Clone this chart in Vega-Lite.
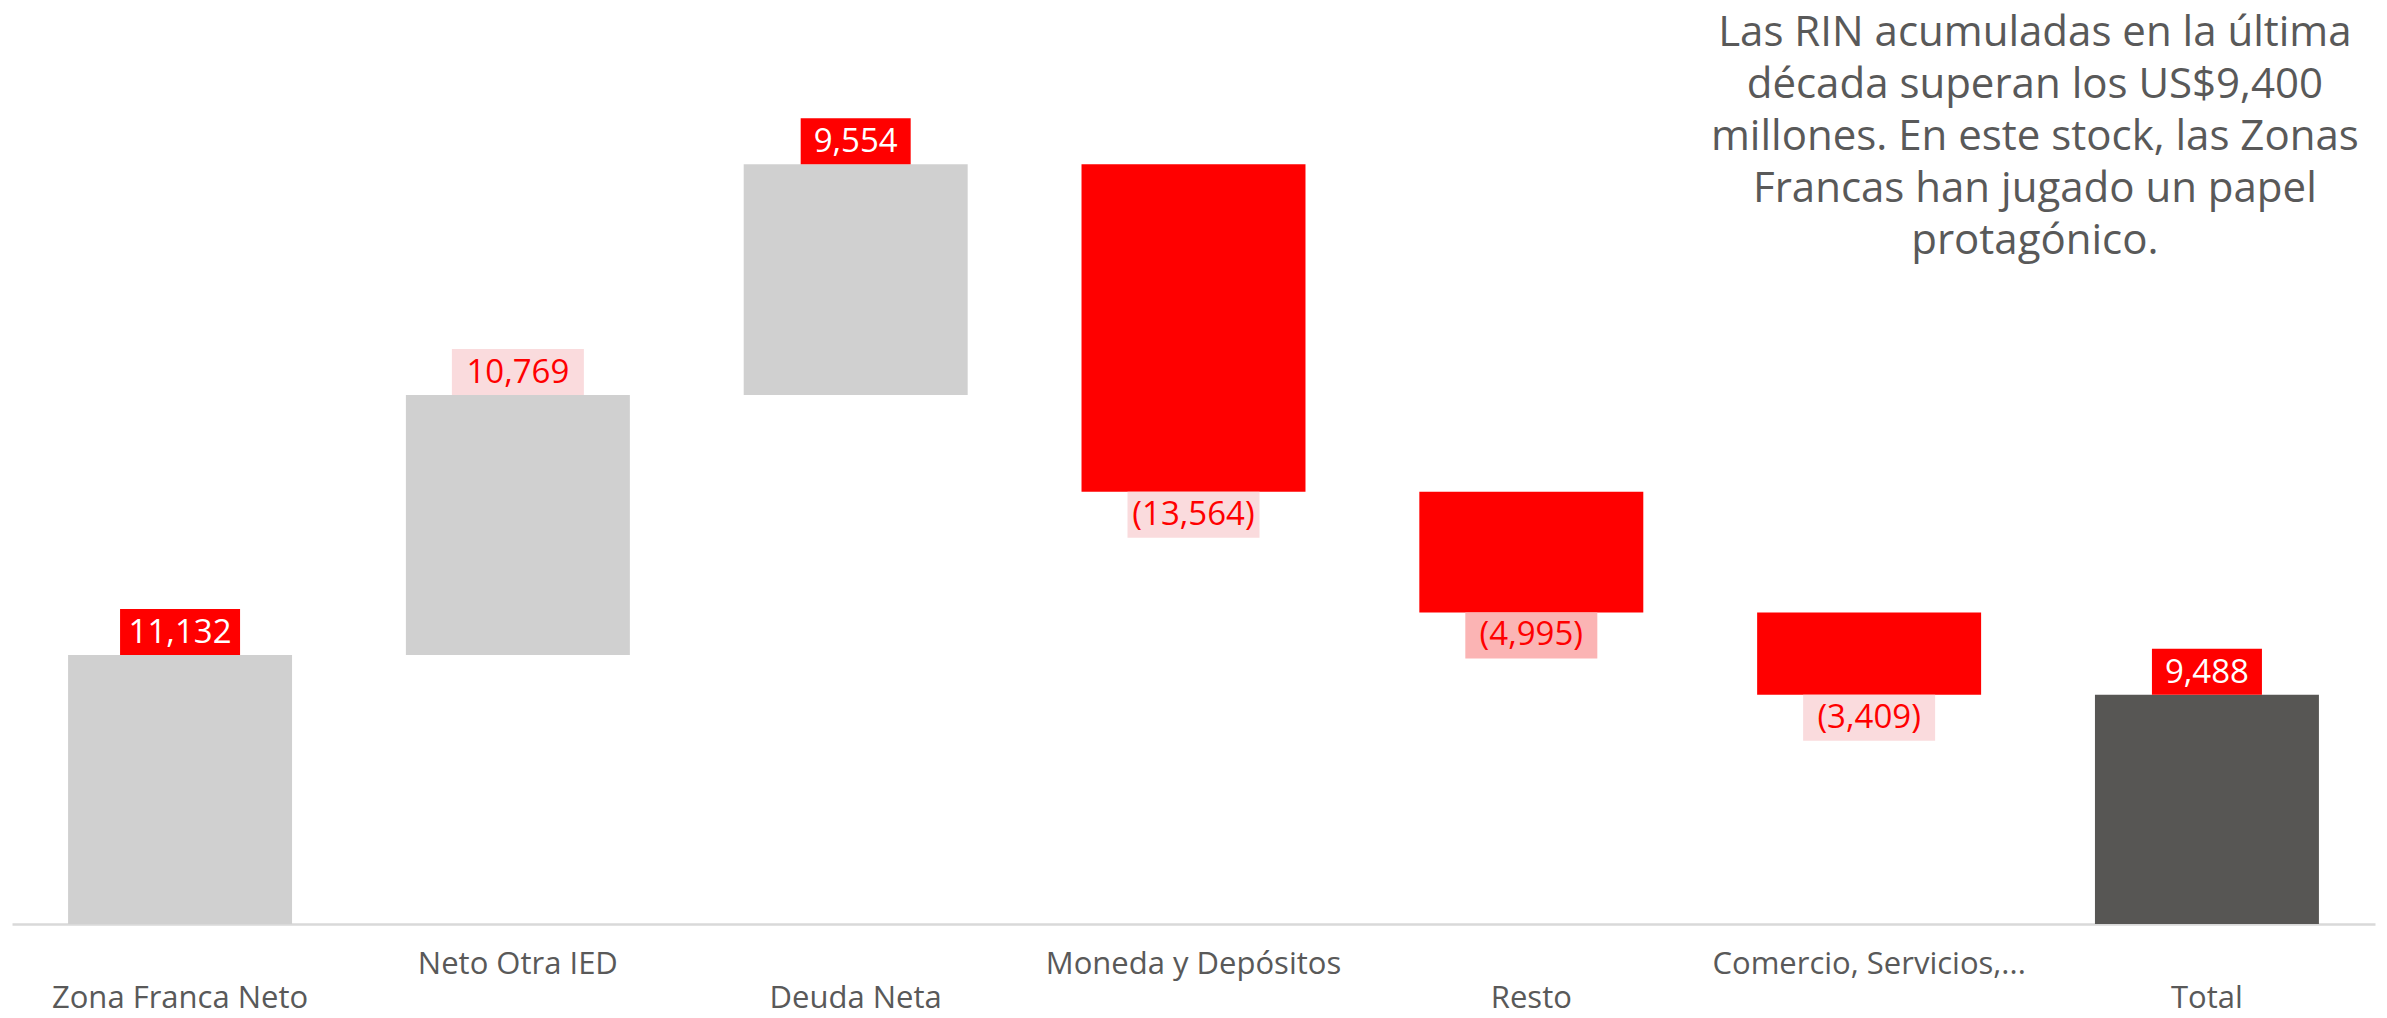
{
  "$schema": "https://vega.github.io/schema/vega-lite/v6.json",
  "width": 2363,
  "height": 924,
  "autosize": {"type": "none"},
  "padding": {"left": 12, "top": 0, "right": 12, "bottom": 94},
  "background": "white",
  "config": {"view": {"stroke": null}, "font": "Open Sans"},
  "data": {"values": [
    {"category": "Zona Franca Neto", "value": 11132, "start": 0, "end": 11132, "type": "Aporte", "label": "11,132", "tone": "fuerte"},
    {"category": "Neto Otra IED", "value": 10769, "start": 11132, "end": 21901, "type": "Aporte", "label": "10,769", "tone": "suave"},
    {"category": "Deuda Neta", "value": 9554, "start": 21901, "end": 31455, "type": "Aporte", "label": "9,554", "tone": "fuerte"},
    {"category": "Moneda y Depósitos", "value": -13564, "start": 31455, "end": 17891, "type": "Salida", "label": "(13,564)", "tone": "suave"},
    {"category": "Resto", "value": -4995, "start": 17891, "end": 12896, "type": "Salida", "label": "(4,995)", "tone": "medio"},
    {"category": "Comercio, Servicios,...", "value": -3409, "start": 12896, "end": 9487, "type": "Salida", "label": "(3,409)", "tone": "suave"},
    {"category": "Total", "value": 9488, "start": 0, "end": 9488, "type": "Total", "label": "9,488", "tone": "fuerte"}
  ]},
  "encoding": {
    "x": {
      "field": "category",
      "type": "nominal",
      "sort": null,
      "scale": {"paddingInner": 0.337, "paddingOuter": 0.166},
      "axis": {
        "title": null,
        "domainColor": "#D9D9D9",
        "domainWidth": 2.5,
        "ticks": false,
        "labelFont": "Open Sans",
        "labelFontSize": 31,
        "labelColor": "#595959",
        "labelBaseline": "alphabetic",
        "labelPadding": {"condition": {"test": "indexof(['Zona Franca Neto', 'Deuda Neta', 'Resto', 'Total'], datum.value) >= 0", "value": 83}, "value": 49},
        "labelAngle": 0,
        "labelLimit": 0
      }
    }
  },
  "layer": [
    {
      "mark": {"type": "bar"},
      "encoding": {
        "y": {"field": "start", "type": "quantitative", "scale": {"domain": [0, 38250], "nice": false, "zero": true}, "axis": null},
        "y2": {"field": "end"},
        "color": {"field": "type", "type": "nominal", "scale": {"domain": ["Aporte", "Salida", "Total"], "range": ["#D0D0D0", "#FF0000", "#575654"]}, "legend": null}
      }
    },
    {
      "transform": [{"filter": "datum.type != 'Salida'"}],
      "mark": {"type": "bar", "y2Offset": -46, "width": {"expr": "datum.tone == 'suave' ? 132 : length(datum.label) == 5 ? 110 : 120"}},
      "encoding": {
        "y": {"field": "end", "type": "quantitative"},
        "y2": {"field": "end"},
        "fill": {"condition": {"test": "datum.tone == 'fuerte'", "value": "#FF0000"}, "value": "#FADBDD"}
      }
    },
    {
      "transform": [{"filter": "datum.type == 'Salida'"}],
      "mark": {"type": "bar", "y2Offset": 46, "width": 132},
      "encoding": {
        "y": {"field": "end", "type": "quantitative"},
        "y2": {"field": "end"},
        "fill": {"condition": {"test": "datum.tone == 'medio'", "value": "#FBB4B4"}, "value": "#FADBDD"}
      }
    },
    {
      "transform": [{"filter": "datum.type != 'Salida'"}],
      "mark": {"type": "text", "baseline": "middle", "align": "center", "yOffset": -22, "fontSize": 33, "font": "Open Sans"},
      "encoding": {
        "y": {"field": "end", "type": "quantitative"},
        "text": {"field": "label"},
        "color": {"condition": {"test": "datum.tone == 'fuerte'", "value": "#FFFFFF"}, "value": "#FF0000"}
      }
    },
    {
      "transform": [{"filter": "datum.type == 'Salida'"}],
      "mark": {"type": "text", "baseline": "middle", "align": "center", "yOffset": 23, "fontSize": 33, "font": "Open Sans", "color": "#FF0000"},
      "encoding": {
        "y": {"field": "end", "type": "quantitative"},
        "text": {"field": "label"}
      }
    },
    {
      "data": {"values": [{"category": "Comercio, Servicios,...", "nivel": 36350, "nota": "Las RIN acumuladas en la última\ndécada superan los US$9,400\nmillones. En este stock, las Zonas\nFrancas han jugado un papel\nprotagónico."}]},
      "mark": {"type": "text", "align": "center", "baseline": "alphabetic", "lineBreak": "\n", "lineHeight": 52, "fontSize": 42, "font": "Open Sans", "color": "#595959"},
      "encoding": {
        "x": {"field": "category", "type": "nominal", "bandPosition": 1.24},
        "y": {"field": "nivel", "type": "quantitative"},
        "text": {"field": "nota"}
      }
    }
  ]
}
